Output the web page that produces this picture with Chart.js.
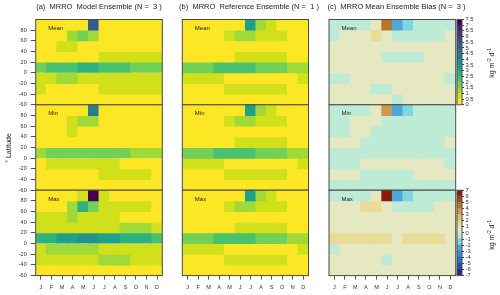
<!DOCTYPE html>
<html><head><meta charset="utf-8">
<script src="https://cdn.jsdelivr.net/npm/chart.js@4.4.0/dist/chart.umd.min.js"></script>
<style>
html,body{margin:0;padding:0;background:#fff;}
#wrap{position:relative;width:500px;height:295px;overflow:hidden;font-family:"Liberation Sans",Arial,sans-serif;color:#222;}
canvas{position:absolute;left:0;top:0;}
.t{position:absolute;white-space:pre;line-height:1;}
.ttl{font-size:7.5px;transform:translate(-50%,-50%);}
.pn{font-size:6px;transform:translate(0,-50%);color:#222;}
.rot{font-size:7px;transform:translate(-50%,-50%) rotate(-90deg);}
sup{font-size:70%;vertical-align:3px;line-height:0;}
</style></head><body><div id="wrap"></div>
<script>
// ---------------- DATA ----------------
const months = ['J','F','M','A','M','J','J','A','S','O','N','D'];
const latBands = [80, 60, 40, 20, 0, -20, -40, -60];   // lower edge of each 20° band (top row first)
const panelNames = ['Mean', 'Min', 'Max'];
const titles = ['(a)  MRRO  Model Ensemble (N =  3 )', '(b)  MRRO  Reference Ensemble (N =  1 )', '(c)  MRRO Mean Ensemble Bias (N =  3 )'];

const modelMean = [
  [0.25,0.25,0.25,0.25,0.25,5.25,0.25,0.25,0.25,0.25,0.25,0.25],
  [0.25,0.25,0.25,1.25,1.75,1.25,0.25,0.25,0.25,0.25,0.25,0.25],
  [0.25,0.25,0.75,0.75,0.25,0.25,0.25,0.25,0.25,0.25,0.25,0.25],
  [0.25,0.25,0.25,0.25,0.25,0.25,0.75,0.75,0.75,0.75,0.75,0.75],
  [1.75,2.25,2.25,2.25,2.75,2.75,2.25,2.25,2.25,1.75,1.75,1.75],
  [0.75,0.75,1.25,1.25,0.75,0.75,0.75,0.75,0.75,0.75,0.75,0.75],
  [0.75,0.25,0.25,0.25,0.25,0.25,0.75,0.75,0.75,0.75,0.75,0.75],
  [0.25,0.25,0.25,0.25,0.25,0.25,0.25,0.25,0.25,0.25,0.25,0.25]
];
const modelMin = [
  [0.25,0.25,0.25,0.25,0.25,4.25,0.25,0.25,0.25,0.25,0.25,0.25],
  [0.25,0.25,0.25,0.75,1.25,1.25,0.25,0.25,0.25,0.25,0.25,0.25],
  [0.25,0.25,0.25,0.75,0.25,0.25,0.25,0.25,0.25,0.25,0.25,0.25],
  [0.25,0.25,0.25,0.25,0.25,0.25,0.25,0.25,0.25,0.25,0.25,0.25],
  [1.25,1.75,1.75,1.75,1.75,1.75,1.75,1.75,1.75,1.25,1.25,1.25],
  [0.25,0.75,0.75,0.75,0.75,0.75,0.75,0.75,0.25,0.25,0.25,0.25],
  [0.25,0.25,0.25,0.25,0.25,0.25,0.75,0.75,0.75,0.75,0.75,0.25],
  [0.25,0.25,0.25,0.25,0.25,0.25,0.25,0.25,0.25,0.25,0.25,0.25]
];
const modelMax = [
  [0.25,0.25,0.25,0.25,0.75,7.25,0.75,0.25,0.25,0.25,0.25,0.25],
  [0.25,0.25,0.25,1.25,2.75,1.75,0.75,0.75,0.75,0.75,0.75,0.25],
  [0.75,0.75,0.75,1.25,0.75,0.75,0.75,0.75,0.25,0.25,0.25,0.25],
  [0.75,0.75,0.75,0.75,0.75,0.75,0.75,0.75,1.25,1.25,1.25,0.75],
  [2.75,2.75,3.25,3.25,3.75,3.75,3.25,3.25,2.75,2.75,2.75,2.25],
  [0.75,1.25,1.25,1.25,1.25,1.25,0.75,0.75,0.75,0.75,0.75,0.75],
  [0.75,0.75,0.75,0.75,0.75,0.75,1.25,1.25,1.25,0.75,0.75,0.75],
  [0.25,0.25,0.25,0.25,0.25,0.25,0.25,0.25,0.25,0.25,0.25,0.25]
];
const refMean = [
  [0.25,0.25,0.25,0.25,0.25,0.25,3.25,1.25,0.75,0.25,0.25,0.25],
  [0.25,0.25,0.25,0.25,0.75,1.25,1.25,0.75,0.75,0.75,0.25,0.25],
  [0.25,0.25,0.25,0.25,0.25,0.25,0.25,0.25,0.25,0.25,0.25,0.25],
  [0.25,0.25,0.25,0.25,0.25,0.75,0.75,0.75,0.75,0.75,0.25,0.25],
  [1.75,1.75,1.75,2.25,2.25,2.25,2.25,1.75,1.75,1.75,1.25,1.25],
  [0.75,0.75,0.75,0.75,0.25,0.25,0.25,0.25,0.25,0.25,0.25,0.75],
  [0.25,0.25,0.25,0.25,0.75,0.75,0.75,0.75,0.75,0.75,0.25,0.25],
  [0.25,0.25,0.25,0.25,0.25,0.25,0.25,0.25,0.25,0.25,0.25,0.25]
];
const refMin = [
  [0.25,0.25,0.25,0.25,0.25,0.25,3.25,1.25,0.75,0.25,0.25,0.25],
  [0.25,0.25,0.25,0.25,0.75,1.25,1.25,0.75,0.75,0.75,0.25,0.25],
  [0.25,0.25,0.25,0.25,0.25,0.25,0.25,0.25,0.25,0.25,0.25,0.25],
  [0.25,0.25,0.25,0.25,0.25,0.75,0.75,0.75,0.75,0.75,0.25,0.25],
  [1.75,1.75,1.75,2.25,2.25,2.25,2.25,1.75,1.75,1.75,1.25,1.25],
  [0.75,0.75,0.75,0.75,0.25,0.25,0.25,0.25,0.25,0.25,0.25,0.75],
  [0.25,0.25,0.25,0.25,0.75,0.75,0.75,0.75,0.75,0.75,0.25,0.25],
  [0.25,0.25,0.25,0.25,0.25,0.25,0.25,0.25,0.25,0.25,0.25,0.25]
];
const refMax = [
  [0.25,0.25,0.25,0.25,0.25,0.25,3.25,1.25,0.75,0.25,0.25,0.25],
  [0.25,0.25,0.25,0.25,0.75,1.25,1.25,0.75,0.75,0.75,0.25,0.25],
  [0.25,0.25,0.25,0.25,0.25,0.25,0.25,0.25,0.25,0.25,0.25,0.25],
  [0.25,0.25,0.25,0.25,0.25,0.75,0.75,0.75,0.75,0.75,0.25,0.25],
  [1.75,1.75,1.75,2.25,2.25,2.25,2.25,1.75,1.75,1.75,1.25,1.25],
  [0.75,0.75,0.75,0.75,0.25,0.25,0.25,0.25,0.25,0.25,0.25,0.75],
  [0.25,0.25,0.25,0.25,0.75,0.75,0.75,0.75,0.75,0.75,0.25,0.25],
  [0.25,0.25,0.25,0.25,0.25,0.25,0.25,0.25,0.25,0.25,0.25,0.25]
];
const biasMean = [
  [-0.5,-0.5,-0.5,-0.5,0.5,4.5,-2.5,-1.5,-0.5,-0.5,-0.5,-0.5],
  [-0.5,0.5,0.5,0.5,1.5,0.5,-0.5,-0.5,-0.5,-0.5,-0.5,0.5],
  [0.5,0.5,0.5,0.5,0.5,0.5,0.5,0.5,0.5,0.5,0.5,0.5],
  [0.5,0.5,0.5,0.5,0.5,-0.5,-0.5,-0.5,-0.5,0.5,0.5,0.5],
  [0.5,0.5,0.5,0.5,0.5,0.5,0.5,0.5,0.5,0.5,0.5,0.5],
  [-0.5,-0.5,0.5,0.5,0.5,0.5,0.5,0.5,0.5,0.5,0.5,-0.5],
  [0.5,0.5,0.5,0.5,-0.5,-0.5,0.5,0.5,0.5,0.5,0.5,0.5],
  [0.5,0.5,0.5,0.5,0.5,0.5,-0.5,0.5,0.5,0.5,0.5,0.5]
];
const biasMin = [
  [-0.5,-0.5,-0.5,-0.5,0.5,3.5,-2.5,-1.5,-0.5,-0.5,-0.5,-0.5],
  [-0.5,-0.5,0.5,0.5,0.5,-0.5,-0.5,-0.5,-0.5,-0.5,-0.5,-0.5],
  [-0.5,-0.5,0.5,0.5,-0.5,-0.5,-0.5,-0.5,-0.5,-0.5,-0.5,-0.5],
  [0.5,0.5,0.5,-0.5,-0.5,-0.5,-0.5,-0.5,-0.5,-0.5,-0.5,0.5],
  [-0.5,-0.5,-0.5,-0.5,-0.5,-0.5,-0.5,-0.5,-0.5,-0.5,-0.5,-0.5],
  [-0.5,-0.5,-0.5,0.5,0.5,0.5,0.5,0.5,0.5,0.5,0.5,-0.5],
  [0.5,0.5,0.5,-0.5,-0.5,-0.5,-0.5,-0.5,0.5,0.5,0.5,0.5],
  [-0.5,-0.5,-0.5,-0.5,-0.5,-0.5,-0.5,-0.5,-0.5,-0.5,-0.5,-0.5]
];
const biasMax = [
  [-0.5,-0.5,-0.5,-0.5,0.5,6.5,-2.5,-1.5,-0.5,-0.5,-0.5,-0.5],
  [0.5,0.5,0.5,1.5,1.5,0.5,-0.5,-0.5,-0.5,-0.5,0.5,0.5],
  [0.5,0.5,0.5,0.5,0.5,0.5,0.5,0.5,0.5,0.5,0.5,0.5],
  [0.5,0.5,0.5,0.5,0.5,0.5,0.5,0.5,0.5,0.5,0.5,0.5],
  [1.5,1.5,1.5,1.5,1.5,1.5,0.5,1.5,1.5,1.5,1.5,0.5],
  [-0.5,0.5,0.5,0.5,0.5,0.5,0.5,0.5,0.5,0.5,0.5,0.5],
  [0.5,0.5,0.5,0.5,0.5,-0.5,0.5,0.5,0.5,0.5,0.5,0.5],
  [0.5,0.5,0.5,0.5,0.5,0.5,0.5,0.5,0.5,0.5,0.5,0.5]
];
const runoffLevels = [0,0.5,1,1.5,2,2.5,3,3.5,4,4.5,5,5.5,6,6.5,7,7.5];
const biasLevels = [-7,-6,-5,-4,-3,-2,-1,0,1,2,3,4,5,6,7];

// ---------------- STYLE ----------------
const viridisCols = ['#fde725','#d0e11c','#a0da39','#73d056','#4ac16d','#2db27d','#1fa187','#21918c',
                     '#277f8e','#2e6e8e','#365c8d','#3f4788','#46337e','#481f70','#440154'];
const biasCols = ['#1c2f8f','#2350a8','#2c70c0','#3a8ccf','#4aa8da','#7fd6e2','#bdebd6',
                  '#e5e8c0','#e8dc98','#dcc070','#cc9a48','#b8742c','#a04a18','#8a1a0a'];
function binColor(levels, cols, v){
  for (let i = 0; i < levels.length - 1; i++) if (v >= levels[i] && v < levels[i+1]) return cols[i];
  return v < levels[0] ? cols[0] : cols[cols.length-1];
}
const runoffColor = v => binColor(runoffLevels, viridisCols, v);
const biasColor = v => binColor(biasLevels, biasCols, v);

const W = 500, H = 295;
const colL = [35.7, 182.3, 329.0], colR = [162.3, 308.5, 455.7];
const rowT = [19.5, 104.8, 190.2], rowB = [104.8, 190.2, 275.6];
const FONT = '"Liberation Sans", Arial, sans-serif';
const wrap = document.getElementById('wrap');

const boxPlugin = {
  id:'box',
  afterDatasetsDraw(chart){
    const a = chart.chartArea, c = chart.ctx;
    c.save(); c.strokeStyle = '#4a4a4a'; c.lineWidth = 1;
    c.strokeRect(a.left, a.top, a.right - a.left, a.bottom - a.top);
    c.restore();
  }
};

function newCanvas(){
  const cv = document.createElement('canvas');
  cv.width = W; cv.height = H; cv.style.width = W+'px'; cv.style.height = H+'px';
  wrap.appendChild(cv); return cv;
}

function heatChart(vals, cmap, col, row){
  const showY = col === 0, showX = row === 2;
  const datasets = latBands.map((lat, i) => ({
    data: months.map(() => [lat, lat + 20]),
    backgroundColor: vals[i].map(cmap),
    grouped:false, barPercentage:1, categoryPercentage:1, borderWidth:0, inflateAmount:0.45
  }));
  new Chart(newCanvas(), {
    type:'bar',
    data:{ labels: months, datasets },
    options:{
      responsive:false, animation:false, events:[], devicePixelRatio:1,
      layout:{ padding:{ left: showY ? 0 : colL[col], right: W - colR[col], top: rowT[row], bottom: showX ? 0 : H - rowB[row] } },
      plugins:{ legend:{display:false}, tooltip:{enabled:false} },
      scales:{
        x:{ display: showX, offset:true,
            grid:{ display:true, offset:false, drawOnChartArea:false, drawTicks:true, tickLength:4, color:'#555' },
            border:{ display:false },
            ticks:{ font:{ family:FONT, size:5.5 }, color:'#333', padding:5, maxRotation:0, autoSkip:false },
            afterFit: s => { s.height = showX ? H - rowB[row] : 0; } },
        y:{ display: showY, min:-60, max:100,
            afterBuildTicks: s => { s.ticks = s.ticks.filter(t => t.value < 100); },
            grid:{ display:true, drawOnChartArea:false, drawTicks:true, tickLength:5, color:'#555' },
            border:{ display:false },
            ticks:{ stepSize:20, font:{ family:FONT, size:5.5 }, color:'#333', padding:4 },
            afterFit: s => { s.width = showY ? colL[0] : 0; } }
      }
    },
    plugins:[boxPlugin]
  });
}

function colorbar(levels, cols, top, bottom){
  const datasets = cols.map((c, i) => ({
    data: [[levels[i], levels[i+1]]], backgroundColor: c,
    grouped:false, barPercentage:1, categoryPercentage:1, borderWidth:0, inflateAmount:0.45
  }));
  const cbL = 457, cbR = 462, axW = 30;
  new Chart(newCanvas(), {
    type:'bar',
    data:{ labels:[''], datasets },
    options:{
      responsive:false, animation:false, events:[], devicePixelRatio:1,
      layout:{ padding:{ left:cbL, right: W - cbR - axW, top, bottom: H - bottom } },
      plugins:{ legend:{display:false}, tooltip:{enabled:false} },
      scales:{
        x:{ display:false, afterFit: s => { s.height = 0; } },
        y:{ position:'right', min:levels[0], max:levels[levels.length-1],
            afterBuildTicks: s => { s.ticks = levels.map(v => ({ value:v })); },
            grid:{ display:true, drawOnChartArea:false, drawTicks:true, tickLength:2, color:'#444' },
            border:{ display:false },
            ticks:{ font:{ family:FONT, size:5.8 }, color:'#333', padding:1.5, autoSkip:false,
                    callback: v => String(v) },
            afterFit: s => { s.width = axW; } }
      }
    },
    plugins:[boxPlugin]
  });
}

const model = [modelMean, modelMin, modelMax];
const ref = [refMean, refMin, refMax];
const bias = [biasMean, biasMin, biasMax];
for (let r = 0; r < 3; r++){
  heatChart(model[r], runoffColor, 0, r);
  heatChart(ref[r], runoffColor, 1, r);
  heatChart(bias[r], biasColor, 2, r);
}
colorbar(runoffLevels, viridisCols, rowT[0], rowB[0]);
colorbar(biasLevels, biasCols, rowT[2], rowB[2]);

// ---------------- TEXT ----------------
function addText(cls, html, x, y){
  const d = document.createElement('div');
  d.className = 't ' + cls; d.innerHTML = html;
  d.style.left = x + 'px'; d.style.top = y + 'px';
  wrap.appendChild(d);
}
const titleX = [99, 249, 396.5];
titles.forEach((t, i) => addText('ttl', t, titleX[i], 7));
for (let c = 0; c < 3; c++) for (let r = 0; r < 3; r++) addText('pn', panelNames[r], colL[c] + 12.5, rowT[r] + 8.5);
addText('rot', '° Latitude', 7.5, 147.6);
addText('rot', 'kg m<sup>-2</sup> d<sup>-1</sup>', 491, 63);
addText('rot', 'kg m<sup>-2</sup> d<sup>-1</sup>', 491, 235);
</script></body></html>
